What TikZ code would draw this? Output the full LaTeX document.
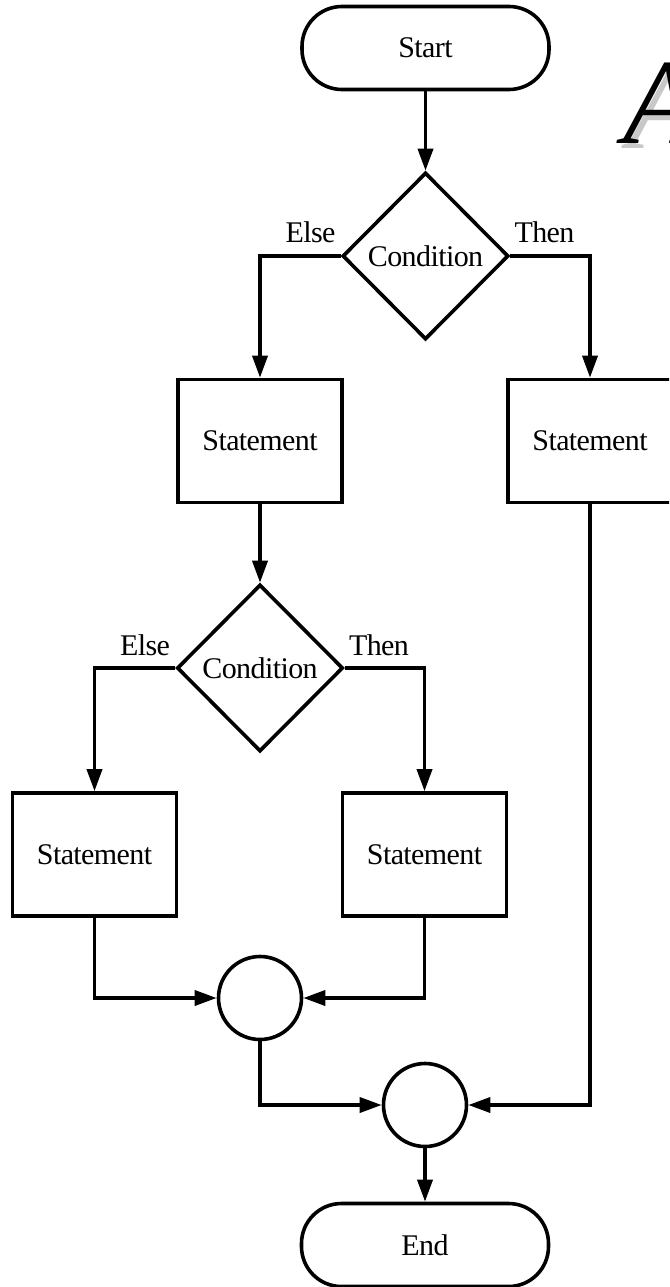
\documentclass[tikz,border=0pt]{standalone}
\usepackage{fontspec}
\setmainfont{Liberation Serif}
\newfontfamily\flowfont[LetterSpace=-2]{Liberation Serif}
\usetikzlibrary{shapes.geometric,arrows.meta}
\begin{document}
\begin{tikzpicture}[x=1pt,y=-1pt,
  every node/.style={font=\flowfont\fontsize{30}{34}\selectfont},
  flow/.style={draw, line width=3.6pt, inner sep=0pt},
  term/.style={flow, rectangle, rounded corners=40pt, minimum width=247pt, minimum height=83pt},
  stmt/.style={flow, rectangle, minimum width=164pt, minimum height=123pt},
  cond/.style={flow, diamond, minimum width=166pt, minimum height=167pt},
  junc/.style={flow, circle, minimum size=83pt},
  arr/.style={line width=3.6pt, -{Triangle[length=22pt,width=15pt]}},
  lbl/.style={inner sep=0pt},
  big/.style={inner sep=0pt, anchor=base west, font=\fontsize{122}{130}\selectfont\itshape}]
\useasboundingbox (0,0) rectangle (669,1287);
\clip (0,0) rectangle (669,1287);
\fill[white] (0,0) rectangle (669,1287);
% title letter (cut off at the right edge)
\node[big, text={rgb,255:red,200;green,200;blue,200}] (Ashadow) at (628,148) {A};
\node[big, text=black] (A) at (623,143) {A};
% nodes
\node[term] (start) at (425.5,48) {Start};
\node[cond] (d1) at (425.5,256) {Condition};
\node[stmt] (s1) at (260,441) {Statement};
\node[stmt] (s2) at (590,441) {Statement};
\node[cond] (d2) at (260,668) {Condition};
\node[stmt] (s3) at (94.5,854.5) {Statement};
\node[stmt] (s4) at (424.5,854.5) {Statement};
\node[junc] (c1) at (260,998) {};
\node[junc] (c2) at (425,1105) {};
\node[term] (end) at (425,1245) {End};
% labels
\node[lbl, anchor=base east] (e1) at ([shift={(-5,-14)}]d1.west) {Else};
\node[lbl, anchor=base west] (t1) at ([shift={(4,-14)}]d1.east) {Then};
\node[lbl, anchor=base east] (e2) at ([shift={(-5,-13)}]d2.west) {Else};
\node[lbl, anchor=base west] (t2) at ([shift={(4,-13)}]d2.east) {Then};
% connectors
\draw[arr] (start.south) -- (d1.north);
\draw[arr] (d1.west) -| (s1.north);
\draw[arr] (d1.east) -| (s2.north);
\draw[arr] (s1.south) -- (d2.north);
\draw[arr] (d2.west) -| (s3.north);
\draw[arr] (d2.east) -| (s4.north);
\draw[arr] (s3.south) |- (c1.west);
\draw[arr] (s4.south) |- (c1.east);
\draw[arr] (c1.south) |- (c2.west);
\draw[arr] (s2.south) |- (c2.east);
\draw[arr] (c2.south) -- (end.north);
\end{tikzpicture}
\end{document}
